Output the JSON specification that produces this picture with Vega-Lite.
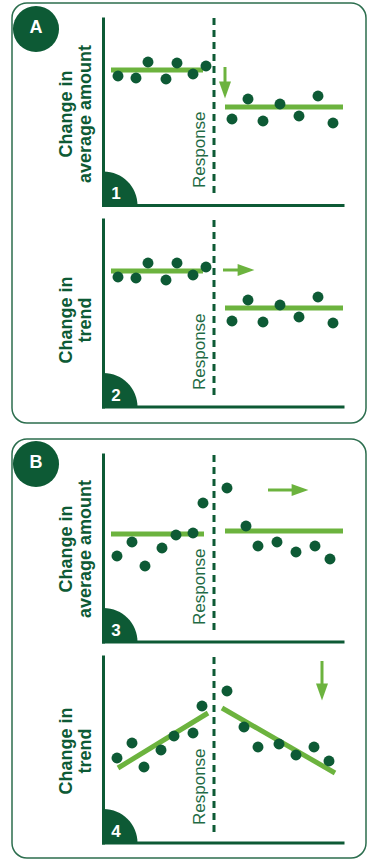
{
  "$schema": "https://vega.github.io/schema/vega-lite/v6.json",
  "width": 367,
  "height": 860,
  "autosize": {"type": "fit", "contains": "padding"},
  "padding": 0,
  "background": "white",
  "config": {"view": {"stroke": null}, "font": "Liberation Sans"},
  "datasets": {
    "boxes": [
      {"box": "A", "x": 12, "y": 3, "x2": 366, "y2": 423, "cx": 36, "cy": 29},
      {"box": "B", "x": 12, "y": 439, "x2": 366, "y2": 858, "cx": 36, "cy": 464}
    ],
    "panels": [
      {"panel": 1, "x0": 103.5, "x1": 343, "top": 19, "bottom": 205.5, "dx": 214, "dtop": 18, "dbot": 197, "rx": 199.5, "ry": 188, "tx": 67, "ty": 114, "title": "Change in\naverage amount", "num": "1", "nx": 116, "ny": 194},
      {"panel": 2, "x0": 103.5, "x1": 343, "top": 220, "bottom": 407, "dx": 214, "dtop": 220, "dbot": 398, "rx": 199.5, "ry": 390, "tx": 67, "ty": 320, "title": "Change in\ntrend", "num": "2", "nx": 116, "ny": 396},
      {"panel": 3, "x0": 103.5, "x1": 343, "top": 455, "bottom": 642, "dx": 214, "dtop": 455, "dbot": 633, "rx": 199.5, "ry": 625, "tx": 67, "ty": 549, "title": "Change in\naverage amount", "num": "3", "nx": 116, "ny": 631},
      {"panel": 4, "x0": 103.5, "x1": 343, "top": 657, "bottom": 843, "dx": 214, "dtop": 657, "dbot": 835, "rx": 199.5, "ry": 825, "tx": 67, "ty": 751, "title": "Change in\ntrend", "num": "4", "nx": 116, "ny": 832}
    ],
    "fits": [
      {"panel": 1, "x": 111, "y": 70, "x2": 203, "y2": 70},
      {"panel": 1, "x": 225, "y": 107, "x2": 343, "y2": 107},
      {"panel": 2, "x": 111, "y": 271, "x2": 203, "y2": 271},
      {"panel": 2, "x": 225, "y": 308, "x2": 343, "y2": 308},
      {"panel": 3, "x": 111, "y": 534, "x2": 204, "y2": 534},
      {"panel": 3, "x": 225, "y": 531, "x2": 343, "y2": 531},
      {"panel": 4, "x": 118, "y": 768, "x2": 208, "y2": 713},
      {"panel": 4, "x": 222, "y": 708, "x2": 335, "y2": 773}
    ],
    "dots": [
      {"panel": 1, "x": 118, "y": 76}, {"panel": 1, "x": 136, "y": 78}, {"panel": 1, "x": 148, "y": 62}, {"panel": 1, "x": 166, "y": 79}, {"panel": 1, "x": 177, "y": 63}, {"panel": 1, "x": 193, "y": 74}, {"panel": 1, "x": 206, "y": 66},
      {"panel": 1, "x": 232, "y": 119}, {"panel": 1, "x": 248, "y": 99}, {"panel": 1, "x": 263, "y": 121}, {"panel": 1, "x": 280, "y": 104}, {"panel": 1, "x": 299, "y": 116}, {"panel": 1, "x": 318, "y": 96}, {"panel": 1, "x": 333, "y": 123},
      {"panel": 2, "x": 118, "y": 277}, {"panel": 2, "x": 136, "y": 278}, {"panel": 2, "x": 148, "y": 263}, {"panel": 2, "x": 166, "y": 280}, {"panel": 2, "x": 177, "y": 263}, {"panel": 2, "x": 193, "y": 275}, {"panel": 2, "x": 206, "y": 267},
      {"panel": 2, "x": 232, "y": 321}, {"panel": 2, "x": 248, "y": 300}, {"panel": 2, "x": 263, "y": 322}, {"panel": 2, "x": 280, "y": 305}, {"panel": 2, "x": 299, "y": 317}, {"panel": 2, "x": 318, "y": 297}, {"panel": 2, "x": 333, "y": 323},
      {"panel": 3, "x": 117, "y": 556}, {"panel": 3, "x": 132, "y": 542}, {"panel": 3, "x": 145, "y": 566}, {"panel": 3, "x": 162, "y": 548}, {"panel": 3, "x": 176, "y": 535}, {"panel": 3, "x": 193, "y": 533}, {"panel": 3, "x": 203, "y": 503},
      {"panel": 3, "x": 227, "y": 488}, {"panel": 3, "x": 246, "y": 526}, {"panel": 3, "x": 258, "y": 546}, {"panel": 3, "x": 277, "y": 542}, {"panel": 3, "x": 296, "y": 552}, {"panel": 3, "x": 315, "y": 546}, {"panel": 3, "x": 330, "y": 559},
      {"panel": 4, "x": 117, "y": 758}, {"panel": 4, "x": 132, "y": 743}, {"panel": 4, "x": 144, "y": 767}, {"panel": 4, "x": 161, "y": 750}, {"panel": 4, "x": 174, "y": 736}, {"panel": 4, "x": 193, "y": 733}, {"panel": 4, "x": 202, "y": 706},
      {"panel": 4, "x": 227, "y": 691}, {"panel": 4, "x": 244, "y": 727}, {"panel": 4, "x": 258, "y": 747}, {"panel": 4, "x": 279, "y": 744}, {"panel": 4, "x": 296, "y": 755}, {"panel": 4, "x": 314, "y": 747}, {"panel": 4, "x": 329, "y": 761}
    ],
    "arrows": [
      {"panel": 1, "dir": "down", "x": 225, "y": 67, "x2": 225, "y2": 85, "hx": 225, "hy": 90},
      {"panel": 2, "dir": "right", "x": 223, "y": 270, "x2": 241, "y2": 270, "hx": 246, "hy": 270},
      {"panel": 3, "dir": "right", "x": 268, "y": 490, "x2": 295, "y2": 490, "hx": 300, "hy": 490},
      {"panel": 4, "dir": "down", "x": 322, "y": 661, "x2": 322, "y2": 687, "hx": 322, "hy": 692}
    ]
  },
  "encoding": {
    "x": {"field": "x", "type": "quantitative", "scale": {"domain": [0, 367], "nice": false, "zero": false}, "axis": null},
    "y": {"field": "y", "type": "quantitative", "scale": {"domain": [0, 860], "reverse": true, "nice": false, "zero": false}, "axis": null}
  },
  "layer": [
    {
      "data": {"name": "boxes"},
      "mark": {"type": "rect", "cornerRadius": 15, "fillOpacity": 0, "stroke": "#2c6e4e", "strokeWidth": 1.5},
      "encoding": {"x2": {"field": "x2"}, "y2": {"field": "y2"}}
    },
    {
      "data": {"name": "boxes"},
      "mark": {"type": "point", "shape": "circle", "filled": true, "opacity": 1, "size": 2124, "color": "#0d5a35", "strokeWidth": 0},
      "encoding": {"x": {"field": "cx", "type": "quantitative"}, "y": {"field": "cy", "type": "quantitative"}}
    },
    {
      "data": {"name": "boxes"},
      "mark": {"type": "text", "font": "Liberation Sans", "fontWeight": "bold", "fontSize": 18, "color": "white", "align": "center", "baseline": "middle", "dy": -1},
      "encoding": {"x": {"field": "cx", "type": "quantitative"}, "y": {"field": "cy", "type": "quantitative"}, "text": {"field": "box"}}
    },
    {
      "data": {"name": "panels"},
      "mark": {"type": "rule", "color": "#0d5a35", "strokeWidth": 3, "strokeCap": "square"},
      "encoding": {"x": {"field": "x0", "type": "quantitative"}, "y": {"field": "top", "type": "quantitative"}, "y2": {"field": "bottom"}}
    },
    {
      "data": {"name": "panels"},
      "mark": {"type": "rule", "color": "#0d5a35", "strokeWidth": 3, "strokeCap": "square"},
      "encoding": {"x": {"field": "x0", "type": "quantitative"}, "x2": {"field": "x1"}, "y": {"field": "bottom", "type": "quantitative"}}
    },
    {
      "data": {"name": "panels"},
      "mark": {"type": "point", "shape": "M0,0L0,-1A1,1,0,0,1,1,0Z", "filled": true, "opacity": 1, "size": 4624, "color": "#0d5a35", "strokeWidth": 0},
      "encoding": {"x": {"field": "x0", "type": "quantitative"}, "y": {"field": "bottom", "type": "quantitative"}}
    },
    {
      "data": {"name": "panels"},
      "mark": {"type": "text", "font": "Liberation Sans", "fontWeight": "bold", "fontSize": 17, "color": "white", "align": "center", "baseline": "middle"},
      "encoding": {"x": {"field": "nx", "type": "quantitative"}, "y": {"field": "ny", "type": "quantitative"}, "text": {"field": "num"}}
    },
    {
      "data": {"name": "panels"},
      "mark": {"type": "rule", "color": "#0d5a35", "strokeWidth": 3, "strokeDash": [7, 5]},
      "encoding": {"x": {"field": "dx", "type": "quantitative"}, "y": {"field": "dtop", "type": "quantitative"}, "y2": {"field": "dbot"}}
    },
    {
      "data": {"name": "panels"},
      "mark": {"type": "text", "font": "Liberation Sans", "fontSize": 17, "color": "#1f6a45", "angle": 270, "align": "left", "baseline": "middle"},
      "encoding": {"x": {"field": "rx", "type": "quantitative"}, "y": {"field": "ry", "type": "quantitative"}, "text": {"datum": "Response"}}
    },
    {
      "data": {"name": "panels"},
      "mark": {"type": "text", "font": "Liberation Sans", "fontWeight": "bold", "fontSize": 18, "color": "#0d5a35", "angle": 270, "align": "center", "baseline": "middle", "lineBreak": "\n", "lineHeight": 19},
      "encoding": {"x": {"field": "tx", "type": "quantitative"}, "y": {"field": "ty", "type": "quantitative"}, "text": {"field": "title"}}
    },
    {
      "data": {"name": "fits"},
      "mark": {"type": "rule", "color": "#6cb33e", "strokeWidth": 5},
      "encoding": {"x2": {"field": "x2"}, "y2": {"field": "y2"}}
    },
    {
      "data": {"name": "dots"},
      "mark": {"type": "point", "shape": "circle", "filled": true, "opacity": 1, "size": 120, "color": "#0d5a35", "strokeWidth": 0},
      "encoding": {}
    },
    {
      "data": {"name": "arrows"},
      "mark": {"type": "rule", "color": "#6cb33e", "strokeWidth": 3},
      "encoding": {"x2": {"field": "x2"}, "y2": {"field": "y2"}}
    },
    {
      "data": {"name": "arrows"},
      "mark": {"type": "point", "filled": true, "opacity": 1, "size": 144, "color": "#6cb33e", "strokeWidth": 0},
      "encoding": {
        "x": {"field": "hx", "type": "quantitative"},
        "y": {"field": "hy", "type": "quantitative"},
        "shape": {"field": "dir", "type": "nominal", "scale": {"domain": ["down", "right"], "range": ["M-1,-1.4L1,-1.4L0,1.4Z", "M-1.4,-1L1.4,0L-1.4,1Z"]}, "legend": null}
      }
    }
  ]
}
